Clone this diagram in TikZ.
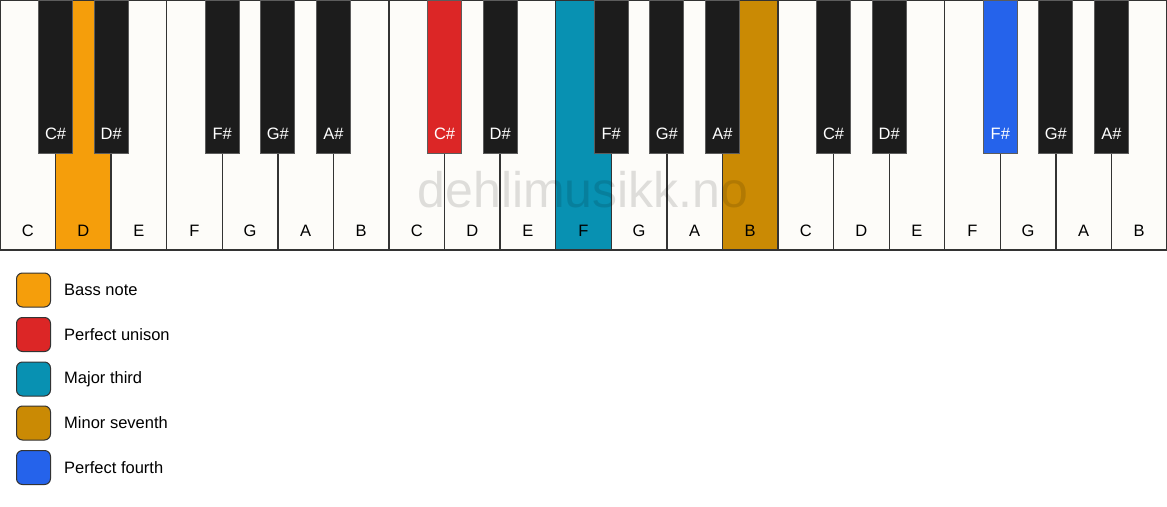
\documentclass[tikz,border=0pt]{standalone}
\usepackage{fontspec}
\setmainfont{Liberation Sans}
\definecolor{keywhite}{HTML}{FDFCF9}
\definecolor{keyblack}{HTML}{1C1C1C}
\definecolor{bass}{HTML}{F59E0B}
\definecolor{unison}{HTML}{DC2626}
\definecolor{third}{HTML}{0891B2}
\definecolor{seventh}{HTML}{CA8A04}
\definecolor{fourth}{HTML}{2563EB}
\definecolor{keyline}{HTML}{333333}
\begin{document}
\begin{tikzpicture}[x=1pt,y=-1pt,font=\fontsize{16.5}{19}\selectfont,
  whitekey/.style={rectangle, draw=keyline, line width=1.3pt, minimum height=250pt, inner sep=0pt, outer sep=0pt},
  blackkey/.style={rectangle, draw=keyline!80, line width=0.8pt, minimum width=34pt, minimum height=153pt, inner sep=0pt, outer sep=0pt},
  wlabel/.style={text=black, anchor=base},
  blabel/.style={text=white, anchor=base},
  swatch/.style={rectangle, rounded corners=6pt, draw=keyline, line width=1pt, minimum width=34pt, minimum height=34pt, inner sep=0pt},
  legtext/.style={anchor=west, text=black, inner sep=0pt}]
\useasboundingbox[fill=white] (0,0) rectangle (1167,506);
\pgfmathsetmacro\w{1167/21}
% white keys
\foreach \i/\n/\c in {0/C/keywhite,1/D/bass,2/E/keywhite,3/F/keywhite,4/G/keywhite,5/A/keywhite,6/B/keywhite,
  7/C/keywhite,8/D/keywhite,9/E/keywhite,10/F/third,11/G/keywhite,12/A/keywhite,13/B/seventh,
  14/C/keywhite,15/D/keywhite,16/E/keywhite,17/F/keywhite,18/G/keywhite,19/A/keywhite,20/B/keywhite}{
  \node[whitekey, fill=\c, minimum width=\w pt] (w\i) at ({(\i+0.5)*\w},125) {};
  \node[wlabel] (wl\i) at ({(\i+0.5)*\w},236) {\n};
}
% watermark
\node[anchor=base, text=black, opacity=0.12, font=\fontsize{50}{60}\selectfont] (wm) at (583,207) {dehlimusikk.no};
% black keys
\foreach \b/\n/\c in {1/C\#/keyblack,2/D\#/keyblack,4/F\#/keyblack,5/G\#/keyblack,6/A\#/keyblack,
  8/C\#/unison,9/D\#/keyblack,11/F\#/keyblack,12/G\#/keyblack,13/A\#/keyblack,
  15/C\#/keyblack,16/D\#/keyblack,18/F\#/fourth,19/G\#/keyblack,20/A\#/keyblack}{
  \node[blackkey, fill=\c] (b\b) at ({\b*\w},76.5) {};
  \node[blabel] (bl\b) at ({\b*\w},139) {\n};
}
% legend
\foreach \k/\c/\t/\y in {1/bass/Bass note/290,2/unison/Perfect unison/334.5,3/third/Major third/379,4/seventh/Minor seventh/423,5/fourth/Perfect fourth/467.5}{
  \node[swatch, fill=\c] (s\k) at (33.5,\y) {};
  \node[legtext] (t\k) at (64,\y) {\t};
}
\end{tikzpicture}
\end{document}
